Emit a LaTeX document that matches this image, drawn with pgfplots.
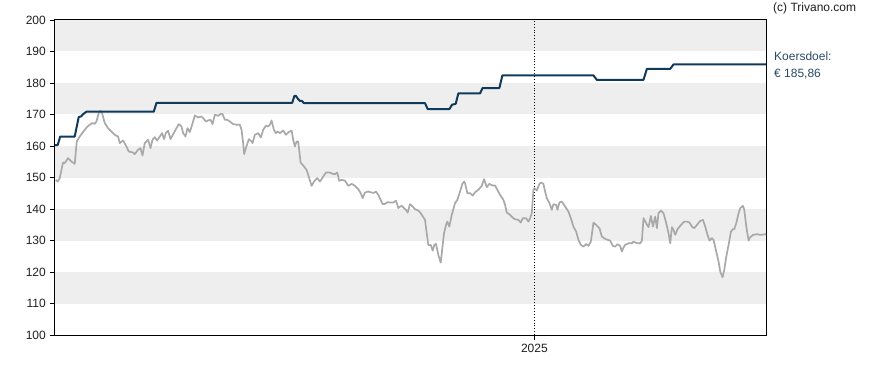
\documentclass[border=0pt]{standalone}
\usepackage{fontspec}
\setmainfont{Liberation Sans}
\usepackage{pgfplots}
\pgfplotsset{compat=1.18}
\definecolor{band}{HTML}{EEEEEE}
\definecolor{target}{HTML}{0E3A5C}
\definecolor{price}{HTML}{A9A9A9}
\definecolor{note}{HTML}{2B4A68}
\begin{document}
\fontsize{12}{14}\selectfont
\begin{tikzpicture}[x=1pt,y=1pt]
\path (0,0) rectangle (888,370);
\begin{axis}[
  at={(55pt,35pt)}, anchor=south west,
  scale only axis, width=711pt, height=315pt,
  xmin=55.3, xmax=765.7, ymin=100, ymax=200,
  ytick={100,110,...,200},
  xtick={534.3}, xticklabels={2025},
  ytick pos=left, xtick pos=bottom,
  tick align=outside, major tick length=5pt,
  tick style={black, line width=0.8pt},
  axis line style={black, line width=1pt},
  /pgf/number format/assume math mode=true,
  tick label style={font=\fontsize{12}{14}\selectfont, text=black!88},
  clip=true,
]
\fill[band] (axis cs:55.3,190) rectangle (axis cs:765.7,200);
\fill[band] (axis cs:55.3,170) rectangle (axis cs:765.7,180);
\fill[band] (axis cs:55.3,150) rectangle (axis cs:765.7,160);
\fill[band] (axis cs:55.3,130) rectangle (axis cs:765.7,140);
\fill[band] (axis cs:55.3,110) rectangle (axis cs:765.7,120);
\draw[black, dotted, line width=0.9pt] (axis cs:534.3,100) -- (axis cs:534.3,200);

% price
\addplot[price, line width=1.7pt, line join=round, mark=none] coordinates {
(56,149.25)(58,148.7)(60,149.8)(63.3,154.75)(65,154.56)(68.3,156.15)(71.7,155.07)(75,154.34)
(77,161.42)(80,163.01)(85,165.14)(87.3,166.0)(90,166.73)(92.3,167.27)(95,167.05)(96.7,167.78)
(99,170.45)(100.7,171.18)(102.3,170.45)(105,167.27)(108.3,165.68)(111.7,164.6)(115,163.55)
(118.3,163.01)(120,160.92)(123.3,161.74)(126.7,159.83)(129,158.25)(133.3,157.93)(135,157.42)
(138.3,158.79)(140.7,159.33)(142.7,156.98)(145,160.92)(148.3,161.96)(150.7,159.33)(152.7,161.96)
(155,162.82)(157.3,161.74)(160,163.01)(162.3,164.09)(164.3,162.19)(166,164.09)(168.3,164.82)
(170.7,162.19)(174,164.09)(176.7,165.68)(179,166.95)(181.7,166.19)(183.3,164.09)(185.7,163.01)
(187.7,165.68)(190,164.41)(192.3,166.73)(195,169.69)(198.3,169.05)(201.7,169.37)(203.3,168.86)
(206,167.78)(208.3,168.1)(210.7,168.32)(212.7,166.95)(215,169.91)(218.3,169.59)(221,170.23)
(222.7,170.13)(225,168.32)(227.3,168.32)(230,167.78)(233.3,166.95)(237.3,166.73)(240,166.73)
(241.7,165.14)(243.3,160.92)(244.3,157.42)(246,159.33)(249,162.19)(251.7,161.42)(252.7,160.92)
(255,163.55)(258.3,164.09)(261,162.69)(263.3,165.14)(266,166.41)(268.3,166.19)(270,166.73)
(271.7,168.1)(274,165.14)(276,164.09)(277.7,164.6)(280,164.09)(283.3,164.92)(286,163.55)
(288.3,164.28)(291.7,164.92)(293.3,161.96)(295,159.83)(296.7,161.42)(298.3,161.42)(300.7,154.75)
(303.3,153.8)(306.7,152.43)(309.3,149.8)(311.7,147.35)(314,148.7)(317.3,149.8)(320,148.7)
(323.3,150.3)(326,151.57)(330,151.57)(332.7,151.16)(335,151.06)(337.3,151.57)(339.3,148.94)
(341.7,149.25)(345,149.03)(348.3,147.35)(351.7,147.98)(355,147.35)(358.3,146.3)(360.7,145.03)
(362.7,143.44)(365,145.22)(368.3,145.54)(371.7,145.22)(374,145.12)(376,145.54)(378.3,144.49)
(381,142.68)(382.7,141.53)(385,141.63)(387.7,142.17)(390,142.04)(393.3,142.04)(396,142.68)
(398.3,140.26)(400,140.77)(401.7,140.99)(404,140.26)(406,139.72)(407.7,138.86)(410,141.53)
(412.7,140.77)(415,139.94)(418.3,139.5)(420.7,138.67)(423.3,137.4)(425,136.54)(426.7,132.32)
(428.3,128.6)(430.7,128.6)(432.7,126.79)(434.3,128.6)(436,128.92)(438.3,125.42)(440.7,122.97)
(442.3,127.55)(444,132.32)(446,134.95)(447.3,136.0)(449.3,134.41)(451.7,138.13)(455,141.85)
(457.3,142.9)(460,145.54)(462.3,147.98)(464,148.7)(465,148.2)(467.3,145.03)(470,145.03)
(472.7,144.26)(475,145.35)(478.3,146.08)(481.7,147.35)(484,149.48)(486.7,146.93)(489.3,147.98)
(492.7,147.44)(495,147.44)(497.3,146.08)(500,144.49)(503.3,142.9)(505,141.31)(506.7,138.86)
(510,138.13)(513.3,137.08)(515,136.77)(518.3,136.54)(520.7,135.69)(522.7,137.08)(526,137.08)
(528.3,136.0)(530,137.08)(531.7,138.67)(533.3,146.08)(534.3,146.62)(536.7,145.85)(539.3,147.98)
(541,148.4)(543.3,147.98)(545,145.54)(546.7,143.44)(549.3,141.85)(551.7,139.72)(553.3,141.53)
(556,141.31)(557.3,139.72)(559.3,142.04)(561.7,142.36)(565,140.77)(568.3,139.18)(570.7,137.08)
(573.3,134.41)(576,132.83)(578.3,130.19)(580.7,128.6)(583.3,128.06)(586,128.92)(588.3,128.28)
(590.7,129.65)(593.3,135.69)(596,134.95)(599.3,133.91)(601.7,131.24)(605,130.51)(607.7,130.19)
(610,129.97)(612.7,128.28)(615,128.06)(617.3,128.82)(620,128.28)(621.7,126.47)(623.3,127.74)
(625,128.6)(628.3,129.14)(631.7,129.14)(633.3,129.65)(636.7,129.14)(640,129.14)(641.7,129.97)
(643.3,137.08)(646,135.49)(648.3,134.22)(650.7,137.81)(652.7,134.41)(655,137.59)(656.7,133.91)
(658.3,138.67)(660.7,139.5)(663.3,138.67)(666,135.49)(668.3,132.32)(670,129.14)(671.7,134.22)
(673.3,133.36)(675,131.78)(677.3,133.59)(680.7,134.95)(684,136.0)(686.7,136.0)(689.3,135.69)
(691.7,134.41)(694,133.91)(696.7,134.95)(700,136.23)(702.7,136.54)(705,134.41)(707.3,131.78)
(709.3,129.97)(711.7,130.73)(713.3,130.19)(716,126.47)(718.3,123.29)(720,120.11)(722.3,118.34)
(724,120.65)(726,124.88)(728.3,128.6)(730.7,132.83)(732.7,133.59)(734,133.59)(736,135.49)
(738.3,138.67)(740,140.26)(742.7,140.99)(744,139.72)(746,134.41)(748.3,129.97)(750,131.05)
(752.7,131.78)(756.7,132.0)(760,131.78)(765.7,132.0)
};

% koersdoel
\addplot[target, line width=2pt, line join=round, mark=none] coordinates {
(55.3,160.3)(58,160.3)(60.5,163)(75,163)(79,169.2)(81.5,169.4)(83,170)(86.7,170.9)
(154,170.9)(156.7,173.7)(292.3,173.7)(294.5,175.9)(296,175.9)(298,175)(300,174.3)(302,174.3)
(304,173.6)(425,173.6)(427.7,171.7)(449.3,171.7)(452,173.1)(455.7,173.4)(458.3,176.7)
(480,176.7)(482.5,178.4)(499.3,178.4)(502.3,182.4)(593.3,182.4)(596.7,181)(643.3,181)
(646.7,184.5)(670,184.5)(673.3,185.9)(765.7,185.9)
};
\end{axis}
\node[anchor=west, inner sep=0, text=black!88] at (773,361.3) {(c) Trivano.com};
\node[anchor=west, inner sep=0, text=note] at (774,313.3) {Koersdoel:};
\node[anchor=west, inner sep=0, text=note] at (774,295.7) {€ 185,86};
\end{tikzpicture}
\end{document}
